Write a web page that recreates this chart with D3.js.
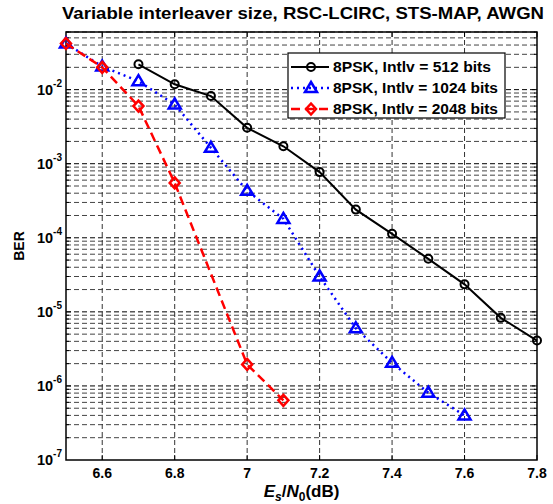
<!DOCTYPE html>
<html>
<head>
<meta charset="utf-8">
<script src="https://cdn.jsdelivr.net/npm/d3@7"></script>
<style>
  body { margin: 0; background: #fff; }
  svg { display: block; font-family: 'Liberation Sans', Arial, sans-serif; }
</style>
</head>
<body>
<svg id="chart" width="553" height="504"></svg>
<script>
'use strict';

// ── Data ──────────────────────────────────────────────────
const snr512  = [6.7, 6.8, 6.9, 7.0, 7.1, 7.2, 7.3, 7.4, 7.5, 7.6, 7.7, 7.8];
const ber512  = [2.2e-2, 1.18e-2, 8.2e-3, 3.05e-3, 1.72e-3, 7.7e-4, 2.4e-4, 1.13e-4, 5.2e-5, 2.35e-5, 8.3e-6, 4.1e-6];

const snr1024 = [6.5, 6.6, 6.7, 6.8, 6.9, 7.0, 7.1, 7.2, 7.3, 7.4, 7.5, 7.6];
const ber1024 = [4.2e-2, 2.05e-2, 1.3e-2, 6.3e-3, 1.64e-3, 4.3e-4, 1.8e-4, 3.0e-5, 6.0e-6, 2.05e-6, 8.1e-7, 4.0e-7];

const snr2048 = [6.5, 6.6, 6.7, 6.8, 7.0, 7.1];
const ber2048 = [4.2e-2, 2.0e-2, 6.0e-3, 5.5e-4, 1.95e-6, 6.4e-7];

const seriesNames = ['8PSK, Intlv = 512 bits', '8PSK, Intlv = 1024 bits', '8PSK, Intlv = 2048 bits'];
const xTicks = [6.6, 6.8, 7.0, 7.2, 7.4, 7.6, 7.8];
const yDecades = [-7, -6, -5, -4, -3, -2];

const series = [
  { name: seriesNames[0], x: snr512,  y: ber512,  color: '#000000', dash: null,  marker: 'circle',   tl: 158 },
  { name: seriesNames[1], x: snr1024, y: ber1024, color: '#0000ff', dash: '2,4', marker: 'triangle', tl: 165 },
  { name: seriesNames[2], x: snr2048, y: ber2048, color: '#ff0000', dash: '9,5', marker: 'diamond',  tl: 165 }
];

// ── Layout ────────────────────────────────────────────────
const svg = d3.select('#chart');
const L = 66, R = 537, T = 32, B = 460;

const x = d3.scaleLinear().domain([6.5, 7.8]).range([L, R]);
const y = d3.scaleLog().domain([1e-7, 0.06]).range([B, T]);

// ── Grid ──────────────────────────────────────────────────
const grid = svg.append('g');
const minorVals = [];
yDecades.forEach(k => {
  for (let m = 1; m <= 9; m++) {
    const v = m * Math.pow(10, k);
    if (v > 1e-7 && v <= 0.06) minorVals.push({ v, major: m === 1 });
  }
});
minorVals.forEach(d => {
  grid.append('line')
    .attr('x1', L).attr('x2', R)
    .attr('y1', y(d.v)).attr('y2', y(d.v))
    .attr('stroke', d.major ? '#000' : '#444')
    .attr('stroke-width', 1)
    .attr('stroke-dasharray', '5,3');
});
xTicks.forEach(t => {
  if (t >= 7.8) return;
  grid.append('line')
    .attr('x1', x(t)).attr('x2', x(t))
    .attr('y1', T).attr('y2', B)
    .attr('stroke', '#333')
    .attr('stroke-width', 1)
    .attr('stroke-dasharray', '5,3');
});

// ── Ticks (inside, both sides) ────────────────────────────
const ticks = svg.append('g').attr('stroke', '#000').attr('stroke-width', 1);
xTicks.forEach(t => {
  ticks.append('line').attr('x1', x(t)).attr('x2', x(t)).attr('y1', B).attr('y2', B - 5);
  ticks.append('line').attr('x1', x(t)).attr('x2', x(t)).attr('y1', T).attr('y2', T + 5);
});
minorVals.forEach(d => {
  const len = d.major ? 5 : 3;
  ticks.append('line').attr('x1', L).attr('x2', L + len).attr('y1', y(d.v)).attr('y2', y(d.v));
  ticks.append('line').attr('x1', R).attr('x2', R - len).attr('y1', y(d.v)).attr('y2', y(d.v));
});

// ── Tick labels ───────────────────────────────────────────
xTicks.forEach(t => {
  svg.append('text')
    .attr('x', x(t)).attr('y', B + 18)
    .attr('text-anchor', 'middle')
    .attr('font-size', 14).attr('font-weight', 'bold')
    .text(d3.format('~g')(t));
});
yDecades.forEach(k => {
  const tx = svg.append('text')
    .attr('x', 62).attr('y', y(Math.pow(10, k)) + 5)
    .attr('text-anchor', 'end')
    .attr('font-size', 14.5).attr('font-weight', 'bold');
  tx.append('tspan').text('10');
  tx.append('tspan').attr('dy', -8).attr('font-size', 10).text(`-${-k}`);
});

// ── Frame ─────────────────────────────────────────────────
svg.append('rect')
  .attr('x', L).attr('y', T).attr('width', R - L).attr('height', B - T)
  .attr('fill', 'none').attr('stroke', '#000').attr('stroke-width', 1.5);

// ── Markers ───────────────────────────────────────────────
function drawMarker(g, type, cx, cy, color) {
  if (type === 'circle') {
    g.append('circle').attr('cx', cx).attr('cy', cy).attr('r', 4)
      .attr('fill', 'none').attr('stroke', color).attr('stroke-width', 2);
  } else if (type === 'triangle') {
    g.append('path')
      .attr('d', `M${cx},${cy - 6}L${cx + 6},${cy + 4}L${cx - 6},${cy + 4}Z`)
      .attr('fill', 'none').attr('stroke', color).attr('stroke-width', 2.5);
  } else {
    g.append('path')
      .attr('d', `M${cx},${cy - 5.5}L${cx + 5},${cy}L${cx},${cy + 5.5}L${cx - 5},${cy}Z`)
      .attr('fill', 'none').attr('stroke', color).attr('stroke-width', 2.5);
  }
}

// ── Series ────────────────────────────────────────────────
const plot = svg.append('g');
const line = d3.line().x(d => x(d[0])).y(d => y(d[1]));
series.forEach(s => {
  const pts = s.x.map((v, i) => [v, s.y[i]]);
  plot.append('path')
    .datum(pts)
    .attr('d', line)
    .attr('fill', 'none')
    .attr('stroke', s.color)
    .attr('stroke-width', s.marker === 'circle' ? 2 : 2.5)
    .attr('stroke-dasharray', s.dash);
  pts.forEach(p => drawMarker(plot, s.marker, x(p[0]), y(p[1]), s.color));
});

// ── Legend ────────────────────────────────────────────────
const lg = svg.append('g');
lg.append('rect')
  .attr('x', 288).attr('y', 53).attr('width', 217).attr('height', 65)
  .attr('fill', '#fff').attr('stroke', '#000').attr('stroke-width', 1.2);
series.forEach((s, i) => {
  const ly = 67 + i * 21;
  lg.append('line')
    .attr('x1', 291).attr('x2', 329).attr('y1', ly).attr('y2', ly)
    .attr('stroke', s.color)
    .attr('stroke-width', s.marker === 'circle' ? 2 : 2.5)
    .attr('stroke-dasharray', s.dash);
  drawMarker(lg, s.marker, 311, ly, s.color);
  lg.append('text')
    .attr('x', 333).attr('y', ly + 5)
    .attr('font-size', 14.5).attr('font-weight', 'bold')
    .attr('textLength', s.tl).attr('lengthAdjust', 'spacingAndGlyphs')
    .text(s.name);
});

// ── Titles ────────────────────────────────────────────────
svg.append('text')
  .attr('x', 62).attr('y', 19)
  .attr('font-size', 16.5).attr('font-weight', 'bold')
  .attr('textLength', 482).attr('lengthAdjust', 'spacingAndGlyphs')
  .text('Variable interleaver size, RSC-LCIRC, STS-MAP, AWGN');

svg.append('text')
  .attr('transform', `translate(24,${(T + B) / 2}) rotate(-90)`)
  .attr('text-anchor', 'middle')
  .attr('font-size', 14).attr('font-weight', 'bold')
  .text('BER');

const xl = svg.append('text')
  .attr('x', (L + R) / 2).attr('y', 497)
  .attr('text-anchor', 'middle')
  .attr('font-size', 17).attr('font-weight', 'bold');
xl.append('tspan').attr('font-style', 'italic').text('E');
xl.append('tspan').attr('font-style', 'italic').attr('font-size', 12).attr('dy', 4).text('s');
xl.append('tspan').attr('dy', -4).text('/');
xl.append('tspan').attr('font-style', 'italic').text('N');
xl.append('tspan').attr('font-size', 12).attr('dy', 4).text('0');
xl.append('tspan').attr('dy', -4).text('(dB)');
</script>
</body>
</html>
